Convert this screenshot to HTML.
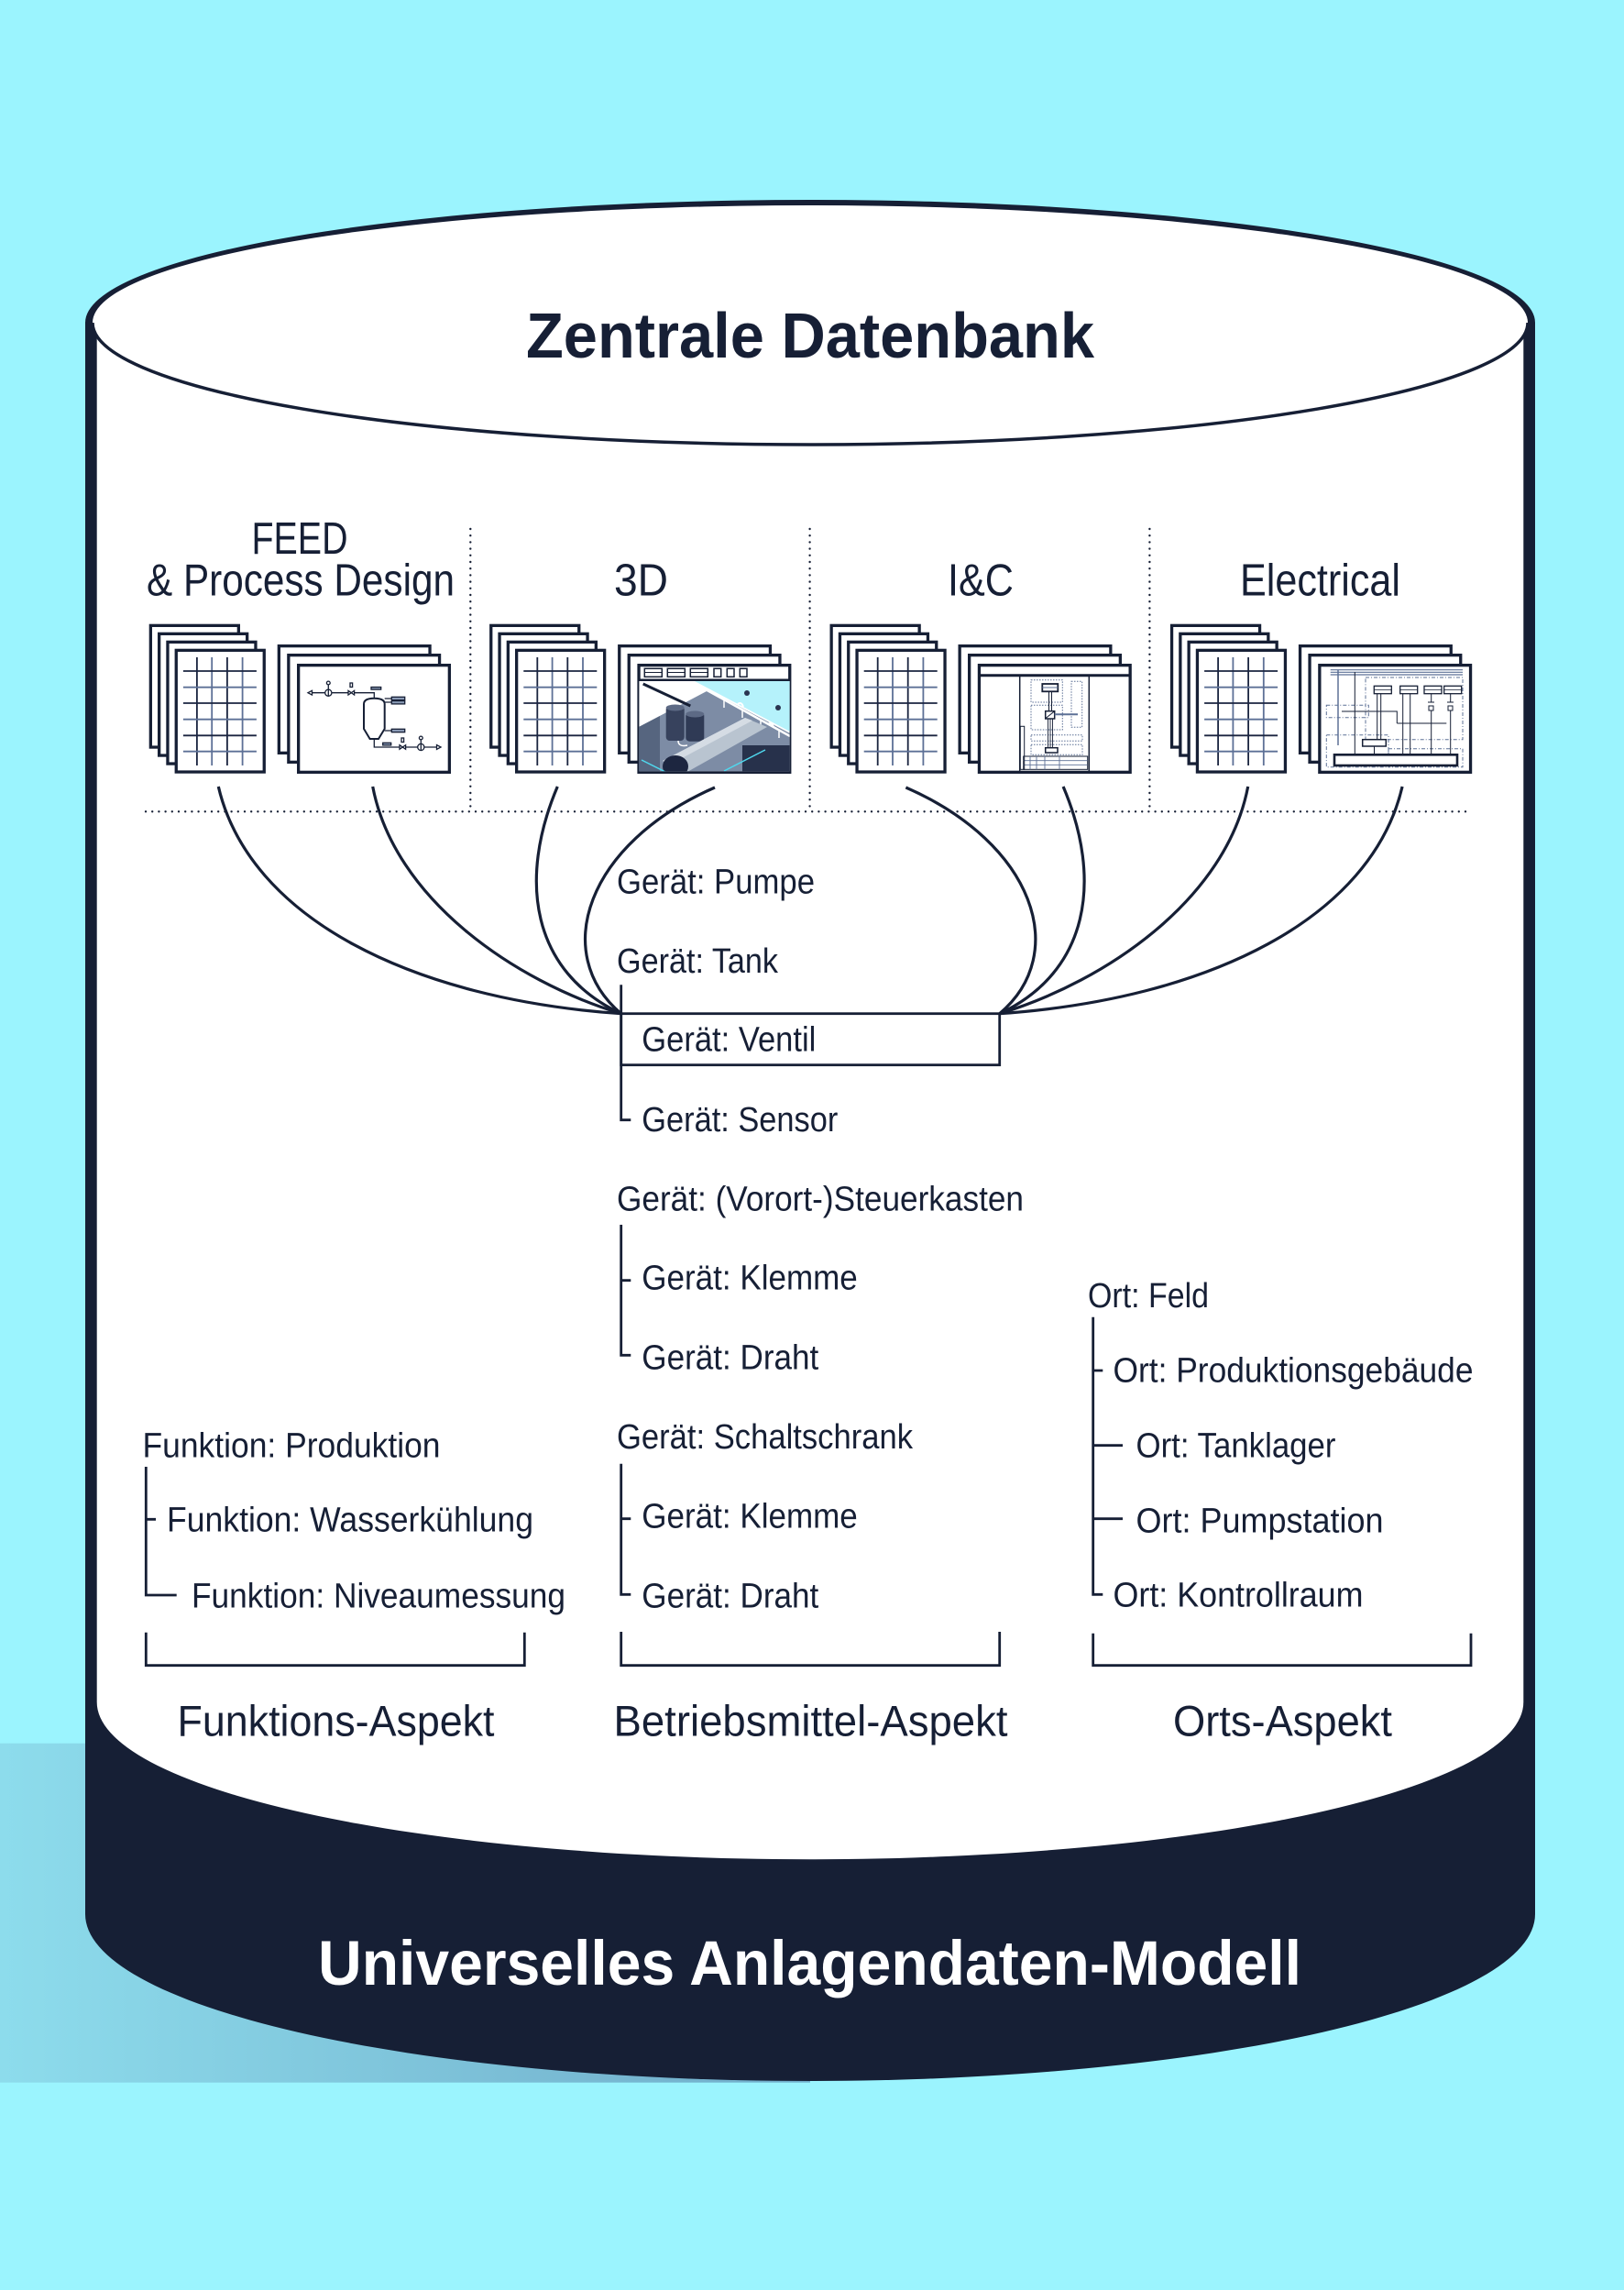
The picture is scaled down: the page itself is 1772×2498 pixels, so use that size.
<!DOCTYPE html>
<html>
<head>
<meta charset="utf-8">
<style>
html,body{margin:0;padding:0;background:#9bf4fe;}
svg{display:block;}
text{font-family:"Liberation Sans",sans-serif;fill:#161f35;}
</style>
</head>
<body>
<svg width="1772" height="2498" viewBox="0 0 1772 2498" xmlns="http://www.w3.org/2000/svg">
<defs>
  <linearGradient id="sh" gradientUnits="userSpaceOnUse" x1="0" y1="0" x2="884" y2="0">
    <stop offset="0" stop-color="#8ddcec"/>
    <stop offset="1" stop-color="#70acc9"/>
  </linearGradient>
  <g id="gs">
    <g fill="#fff" stroke="#161f35" stroke-width="3.3">
      <rect x="1.65" y="1.65" width="96" height="132.7"/>
      <rect x="10.95" y="10.65" width="96" height="132.7"/>
      <rect x="20.25" y="19.65" width="96" height="132.7"/>
      <rect x="29.55" y="28.65" width="96" height="132.7"/>
    </g>
    <g stroke-width="1.8">
      <path d="M52.2,36.3V154.3M85.2,36.3V154.3" stroke="#1b2540"/>
      <path d="M68.5,36.3V154.3M101.9,36.3V154.3" stroke="#5d7096"/>
      <path d="M37.2,51.3H117.2M37.2,86.3H117.2M37.2,121.6H117.2" stroke="#1b2540"/>
      <path d="M37.2,69H117.2M37.2,104H117.2M37.2,139H117.2" stroke="#5d7096"/>
    </g>
  </g>
  <g id="ds" fill="#fff" stroke="#161f35" stroke-width="3.3">
    <rect x="1.65" y="1.65" width="164.7" height="116.7"/>
    <rect x="12.15" y="11.65" width="164.7" height="116.7"/>
    <rect x="22.95" y="22.65" width="164.7" height="116.7"/>
  </g>
  <clipPath id="c3d"><rect x="697.4" y="743" width="164.2" height="98.3"/></clipPath>
</defs>

<!-- background -->
<rect x="0" y="0" width="1772" height="2498" fill="#9bf4fe"/>
<rect x="0" y="1901.7" width="884" height="370" fill="url(#sh)"/>

<!-- cylinder -->
<path d="M93,352 A791,134 0 0 1 1675,352 V2088 A791,182 0 0 1 93,2088 Z" fill="#161f35"/>
<path d="M105.7,352 H1662.3 V1856.7 A778.3,171.5 0 0 1 105.7,1856.7 Z" fill="#fff"/>
<ellipse cx="884" cy="352" rx="783" ry="128" fill="#fff"/>
<path d="M101,352 A783,133 0 0 0 1667,352" fill="none" stroke="#161f35" stroke-width="3.5"/>

<!-- titles -->
<text x="574" y="390" font-size="70" font-weight="bold" textLength="620" lengthAdjust="spacingAndGlyphs">Zentrale Datenbank</text>
<text x="347" y="2165" font-size="69" font-weight="bold" style="fill:#ffffff" textLength="1073" lengthAdjust="spacingAndGlyphs">Universelles Anlagendaten-Modell</text>

<!-- column headers -->
<text x="274.5" y="604" font-size="49" textLength="105" lengthAdjust="spacingAndGlyphs">FEED</text>
<text x="160" y="649.6" font-size="49" textLength="336" lengthAdjust="spacingAndGlyphs">&amp; Process Design</text>
<text x="670" y="649.6" font-size="49" textLength="59" lengthAdjust="spacingAndGlyphs">3D</text>
<text x="1034" y="649.6" font-size="49" textLength="72" lengthAdjust="spacingAndGlyphs">I&amp;C</text>
<text x="1353" y="649.6" font-size="49" textLength="175" lengthAdjust="spacingAndGlyphs">Electrical</text>

<!-- dotted separators -->
<path d="M513.3,577V882M883.6,577V882M1254.4,577V882M159,885.3H1605" fill="none" stroke="#161f35" stroke-width="2.4" stroke-linecap="round" stroke-dasharray="0 7.2"/>

<!-- icon stacks -->
<use href="#gs" x="162.7" y="680.7"/>
<use href="#gs" x="534.1" y="680.7"/>
<use href="#gs" x="905.5" y="680.7"/>
<use href="#gs" x="1276.9" y="680.7"/>
<use href="#ds" x="302.7" y="703"/>
<use href="#ds" x="674.1" y="703"/>
<use href="#ds" x="1045.5" y="703"/>
<use href="#ds" x="1416.9" y="703"/>

<!-- col1 P&ID -->
<g stroke="#161f35" stroke-width="1.3" fill="none">
  <path d="M340,755.7 H408.3 V761.7"/>
  <polygon points="336,755.7 340.5,753.3 340.5,758.1" fill="#fff"/>
  <circle cx="358.3" cy="755.7" r="3.6" fill="#fff"/>
  <path d="M358.3,752.1V759.3M358.3,747V752"/>
  <circle cx="358.3" cy="745" r="1.9" fill="#fff"/>
  <polygon points="380,753.4 386.6,758 386.6,753.4 380,758" fill="#fff"/>
  <rect x="382" y="745" width="2.6" height="4.5" fill="#fff"/>
  <rect x="405" y="749.5" width="10.7" height="2.6" fill="#8a9ab5"/>
  <path d="M397,768 Q397,761.7 408.3,761.7 Q419.7,761.7 419.7,768 V795 L413,806 H403.6 L397,795 Z" fill="#fff" stroke-width="2"/>
  <path d="M419.7,762H427.3M419.7,766H427.3M419.7,797H427.3"/>
  <rect x="427.3" y="760.3" width="14.4" height="3.4" fill="#8a9ab5"/>
  <rect x="427.3" y="764.5" width="14.4" height="3.4" fill="#8a9ab5"/>
  <rect x="427.3" y="795.3" width="14.4" height="3.4" fill="#8a9ab5"/>
  <path d="M408.3,806 V815 H477"/>
  <rect x="417.7" y="810.3" width="9" height="2.6" fill="#8a9ab5"/>
  <polygon points="436,812.7 442.6,817.3 442.6,812.7 436,817.3" fill="#fff"/>
  <rect x="438" y="805" width="2.6" height="4.5" fill="#fff"/>
  <circle cx="459.3" cy="815" r="3.6" fill="#fff"/>
  <path d="M459.3,811.4V818.6M459.3,806.5V811.4"/>
  <circle cx="459.3" cy="805" r="1.9" fill="#fff"/>
  <polygon points="481,815 476.5,812.6 476.5,817.4" fill="#fff"/>
</g>

<!-- col2 3D -->
<g>
  <g clip-path="url(#c3d)">
    <rect x="697" y="743" width="166" height="100" fill="#fff"/>
    <polygon points="758,743 862,743 862,798" fill="#b5f2fb"/>
    <polygon points="697,793 773,753 862,800 862,843 697,843" fill="#7d8ca5"/>
    <polygon points="697,793 720,781 720,843 697,843" fill="#56657f"/>
    <path d="M768,751 L862,803" stroke="#fff" stroke-width="2.5"/>
    <path d="M790,763V772M810,774V783M830,785V794M850,796V805" stroke="#fff" stroke-width="1.5"/>
    <path d="M701.7,746 L753.3,770" stroke="#161f35" stroke-width="3"/>
    <rect x="726.7" y="770" width="20" height="38" rx="4" fill="#37425d"/>
    <ellipse cx="736.7" cy="772" rx="10" ry="3.5" fill="#5d6a85"/>
    <rect x="748.3" y="776.7" width="20" height="32" rx="4" fill="#2f3a55"/>
    <ellipse cx="758.3" cy="779" rx="10" ry="3.5" fill="#5d6a85"/>
    <path d="M740,808 Q740,815 750,813" stroke="#fff" stroke-width="1.5" fill="none"/>
    <polygon points="723,830 813,783 837,793 750,842" fill="#b9c4d0"/>
    <polygon points="723,830 813,783 821,786 731,834" fill="#d5dce4"/>
    <ellipse cx="737" cy="836" rx="14" ry="12" fill="#1d2640"/>
    <rect x="810" y="813" width="52" height="30" fill="#27314b"/>
    <circle cx="815" cy="756" r="3" fill="#2a3450"/>
    <circle cx="849" cy="772" r="3" fill="#2a3450"/>
    <path d="M700,829 L728,843M790,841 L835,818" stroke="#4fd8ee" stroke-width="1.5"/>
    <path d="M805,768 q4,-3 6,3 M838,790 q4,-3 6,3" stroke="#fff" stroke-width="2" fill="none"/>
  </g>
  <path d="M697,741.7H862" stroke="#161f35" stroke-width="2.5"/>
  <g fill="#fff" stroke="#161f35" stroke-width="1.5">
    <rect x="703.3" y="729.3" width="19" height="9"/>
    <rect x="728.3" y="729.3" width="19" height="9"/>
    <rect x="753.3" y="729.3" width="19" height="9"/>
    <rect x="779" y="729.3" width="7.7" height="9"/>
    <rect x="793.3" y="729.3" width="7.7" height="9"/>
    <rect x="807.3" y="729.3" width="7.7" height="9"/>
  </g>
  <path d="M703.3,733.5H722.3M728.3,733.5H747.3M753.3,733.5H772.3" stroke="#161f35" stroke-width="1"/>
</g>

<!-- col3 I&C -->
<g fill="none">
  <path d="M1068,736.7H1233" stroke="#161f35" stroke-width="3"/>
  <path d="M1112.7,737V842M1188.3,737V842" stroke="#161f35" stroke-width="1.5"/>
  <g stroke="#5d7096" stroke-width="1" stroke-dasharray="1.5 1.5">
    <rect x="1125" y="741.7" width="34.3" height="24.3"/>
    <rect x="1125" y="769.3" width="34.3" height="26.7"/>
    <rect x="1169" y="743.3" width="11.7" height="50"/>
    <rect x="1125" y="801.7" width="56" height="6.6"/>
    <rect x="1125" y="812.3" width="56" height="11"/>
  </g>
  <rect x="1137.3" y="746" width="17" height="8.3" fill="#fff" stroke="#161f35" stroke-width="1.8"/>
  <path d="M1137.3,750H1154.3" stroke="#5d7096" stroke-width="1"/>
  <path d="M1144.5,754.3V775.7M1147.5,754.3V775.7" stroke="#161f35" stroke-width="1"/>
  <rect x="1140.7" y="775.7" width="10" height="8.3" fill="#fff" stroke="#161f35" stroke-width="1.5"/>
  <path d="M1141,783.5L1150.5,776" stroke="#161f35" stroke-width="1"/>
  <path d="M1150.7,779.3H1176" stroke="#5d7096" stroke-width="2"/>
  <path d="M1143.5,784V815.7M1146,784V815.7M1148.5,784V815.7" stroke="#161f35" stroke-width="0.9"/>
  <rect x="1140.7" y="815.7" width="13.3" height="5.3" fill="#fff" stroke="#161f35" stroke-width="1.5"/>
  <rect x="1116.7" y="825" width="70" height="14.3" stroke="#161f35" stroke-width="1"/>
  <path d="M1116.7,829.7H1186.7M1116.7,834.3H1186.7M1124,825V839.3M1131,825V839.3M1140,825V839.3M1156,825V839.3" stroke="#5d7096" stroke-width="0.9"/>
  <rect x="1113.3" y="792.3" width="4.4" height="47" stroke="#161f35" stroke-width="1"/>
</g>

<!-- col4 Electrical -->
<g fill="none">
  <path d="M1451.7,730.7H1596M1451.7,733.3H1596M1451.7,736H1596" stroke="#5d7096" stroke-width="1.2"/>
  <g stroke="#5d7096" stroke-width="1" stroke-dasharray="4 2 1 2">
    <rect x="1490" y="739" width="106" height="67.7"/>
    <rect x="1447.3" y="769.3" width="46" height="13.4"/>
    <rect x="1447.3" y="801.7" width="67.7" height="35"/>
    <rect x="1515" y="816.7" width="81" height="20"/>
  </g>
  <g fill="#fff" stroke="#161f35" stroke-width="1.3">
    <rect x="1499.3" y="748.3" width="19" height="8.4"/>
    <rect x="1527.7" y="748.3" width="19" height="8.4"/>
    <rect x="1554" y="748.3" width="19" height="8.4"/>
    <rect x="1575.7" y="748.3" width="19" height="8.4"/>
  </g>
  <path d="M1499.3,752.5H1518.3M1527.7,752.5H1546.7M1554,752.5H1573M1575.7,752.5H1594.7" stroke="#161f35" stroke-width="0.8"/>
  <path d="M1502.7,756.7V806.7M1506.7,756.7V806.7M1530.7,756.7V823M1538.7,756.7V823M1561.7,756.7V766M1582.7,756.7V766M1561.7,775V823M1582.7,775V823" stroke="#161f35" stroke-width="1"/>
  <path d="M1558,766h7M1579,766h7M1559,770h5v5h-5zM1580,770h5v5h-5z" stroke="#161f35" stroke-width="1"/>
  <path d="M1524.3,789H1578.3M1464,776H1524.3V789" stroke="#161f35" stroke-width="1"/>
  <rect x="1486.7" y="806.7" width="25.6" height="7.3" fill="#fff" stroke="#161f35" stroke-width="1.5"/>
  <path d="M1499.5,814V823" stroke="#161f35" stroke-width="1"/>
  <rect x="1456" y="823.3" width="134" height="11.7" fill="#fff" stroke="#161f35" stroke-width="2.6"/>
  <path d="M1460,731V813" stroke="#5d7096" stroke-width="1.5"/>
  <path d="M1478.3,733V823" stroke="#161f35" stroke-width="1"/>
</g>

<!-- connector curves -->
<g fill="none" stroke="#161f35" stroke-width="3.2">
  <g id="lc">
    <path d="M238.3,858 C272,1002 450,1090 677.7,1105.7"/>
    <path d="M406.7,858 C430,980 560,1070 677.7,1105.7"/>
    <path d="M608.3,858 C565,960 580,1060 677.7,1105.7"/>
    <path d="M780,859 C640,920 600,1040 677.7,1105.7"/>
  </g>
  <g transform="translate(1768.4,0) scale(-1,1)">
    <path d="M238.3,858 C272,1002 450,1090 677.7,1105.7"/>
    <path d="M406.7,858 C430,980 560,1070 677.7,1105.7"/>
    <path d="M608.3,858 C565,960 580,1060 677.7,1105.7"/>
    <path d="M780,859 C640,920 600,1040 677.7,1105.7"/>
  </g>
</g>

<!-- tree lines & brackets -->
<g fill="none" stroke="#161f35" stroke-width="2.8">
  <rect x="677.7" y="1105.7" width="413" height="56"/>
  <path d="M677.7,1074.3V1221.7H688.3"/>
  <path d="M677.7,1336V1478.3H688.3M677.7,1396.7H688.3"/>
  <path d="M677.7,1596.7V1739.3H688.3M677.7,1656.7H688.3"/>
  <path d="M159.3,1600V1740H192.7M159.3,1657.3H170"/>
  <path d="M1192.7,1436.7V1739.3H1203.3M1192.7,1495H1203.3M1192.7,1576.7H1225M1192.7,1656.7H1225"/>
  <path d="M159.3,1780.7V1816.7H572.3V1780.7"/>
  <path d="M677.7,1780V1816.7H1090.7V1780"/>
  <path d="M1192.7,1781.7V1816.7H1605V1781.7"/>
</g>

<!-- tree text -->
<g font-size="38">
  <text x="673" y="974.3" textLength="216" lengthAdjust="spacingAndGlyphs">Gerät: Pumpe</text>
  <text x="673" y="1061" textLength="176" lengthAdjust="spacingAndGlyphs">Gerät: Tank</text>
  <text x="700.3" y="1146.7" textLength="190" lengthAdjust="spacingAndGlyphs">Gerät: Ventil</text>
  <text x="700.3" y="1234" textLength="214" lengthAdjust="spacingAndGlyphs">Gerät: Sensor</text>
  <text x="673" y="1320.7" textLength="444" lengthAdjust="spacingAndGlyphs">Gerät: (Vorort-)Steuerkasten</text>
  <text x="700.3" y="1406.7" textLength="235.5" lengthAdjust="spacingAndGlyphs">Gerät: Klemme</text>
  <text x="700.3" y="1493.3" textLength="193" lengthAdjust="spacingAndGlyphs">Gerät: Draht</text>
  <text x="673" y="1580" textLength="323" lengthAdjust="spacingAndGlyphs">Gerät: Schaltschrank</text>
  <text x="700.3" y="1666.7" textLength="235.5" lengthAdjust="spacingAndGlyphs">Gerät: Klemme</text>
  <text x="700.3" y="1753.3" textLength="193" lengthAdjust="spacingAndGlyphs">Gerät: Draht</text>

  <text x="155.5" y="1589.3" textLength="325" lengthAdjust="spacingAndGlyphs">Funktion: Produktion</text>
  <text x="182" y="1670.7" textLength="400" lengthAdjust="spacingAndGlyphs">Funktion: Wasserkühlung</text>
  <text x="209" y="1753.3" textLength="408" lengthAdjust="spacingAndGlyphs">Funktion: Niveaumessung</text>

  <text x="1187" y="1426" textLength="132" lengthAdjust="spacingAndGlyphs">Ort: Feld</text>
  <text x="1214.5" y="1507.7" textLength="393" lengthAdjust="spacingAndGlyphs">Ort: Produktionsgebäude</text>
  <text x="1239.5" y="1589.3" textLength="218" lengthAdjust="spacingAndGlyphs">Ort: Tanklager</text>
  <text x="1239.5" y="1671.7" textLength="270" lengthAdjust="spacingAndGlyphs">Ort: Pumpstation</text>
  <text x="1214.5" y="1752.7" textLength="273" lengthAdjust="spacingAndGlyphs">Ort: Kontrollraum</text>
</g>

<!-- aspect labels -->
<g font-size="47">
  <text x="193.5" y="1893.3" textLength="346" lengthAdjust="spacingAndGlyphs">Funktions-Aspekt</text>
  <text x="669.5" y="1893.3" textLength="430" lengthAdjust="spacingAndGlyphs">Betriebsmittel-Aspekt</text>
  <text x="1280" y="1893.3" textLength="239" lengthAdjust="spacingAndGlyphs">Orts-Aspekt</text>
</g>
</svg>
</body>
</html>
